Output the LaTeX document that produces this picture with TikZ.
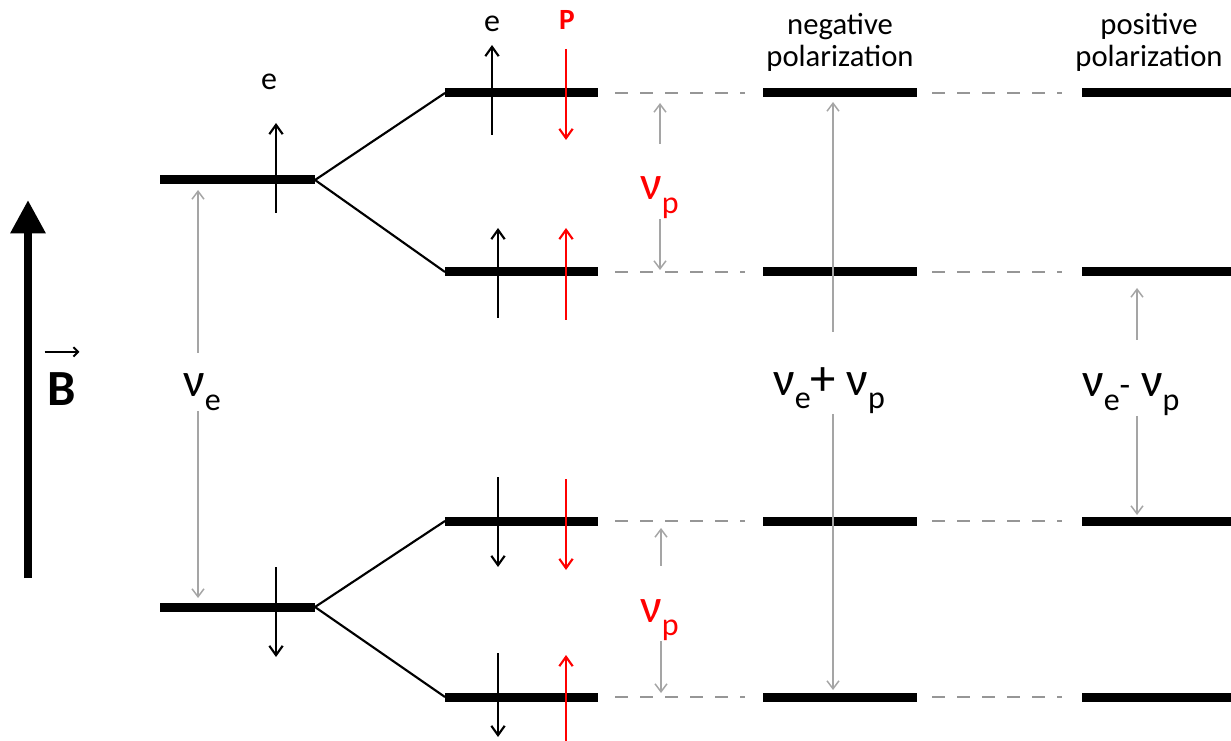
\documentclass[tikz,border=0pt]{standalone}
\usepackage{fontspec}
\setmainfont{Carlito}
\usetikzlibrary{arrows.meta,calc}
\definecolor{spinred}{RGB}{255,0,0}
\definecolor{gapgray}{RGB}{165,165,165}
\definecolor{dashgray}{RGB}{150,150,150}
\tikzset{
  level/.style={line width=6.75pt},
  split/.style={line width=1.6pt},
  spin/.style={line width=1.6pt,-{Straight Barb[length=7pt,width=10pt]}},
  gaparrow/.style={gapgray,line width=1.1pt,-{Straight Barb[length=6pt,width=9pt]}},
  linkdash/.style={dashgray,line width=1.9pt,dash pattern=on 9.75pt off 9pt},
  freqlab/.style={inner sep=0pt,anchor=base west},
  spinlab/.style={inner sep=0pt,anchor=base,font=\fontsize{24}{24}\selectfont},
  pollab/.style={inner sep=0pt,anchor=south,align=center,font=\fontsize{23}{24}\selectfont}
}
\newcommand{\freqsym}[1]{{\fontsize{36}{40}\selectfont ν}\raisebox{-10pt}{\fontsize{24}{26}\selectfont #1}}

\begin{document}
\begin{tikzpicture}[x=0.75pt,y=-0.75pt]
  \useasboundingbox (0,0) rectangle (1231,741);

  % champ B
  \draw[line width=6pt,-{Triangle[length=25pt,width=25pt]}] (28,578) -- (28,200);
  \node[inner sep=0pt,anchor=base,font=\fontsize{38}{38}\selectfont\bfseries] (bfield) at (62,405) {B};
  \draw[line width=1.5pt,-{Straight Barb[length=3.5pt,width=7pt]}]
    ($(bfield.north west)+(-3,-20)$) -- ($(bfield.north east)+(3,-20)$);

  % niveaux de l'électron
  \coordinate (eupL) at (160,180);
  \coordinate (eupR) at (315,180);
  \coordinate (ednL) at (160,607);
  \coordinate (ednR) at (315,607);
  \draw[level] (eupL) -- (eupR);
  \draw[level] (ednL) -- (ednR);

  % niveaux électron + proton, trois colonnes
  \foreach \n/\y in {1/93,2/272,3/521,4/697}{
    \coordinate (aL\n) at (445,\y);
    \coordinate (aR\n) at (598,\y);
    \coordinate (bL\n) at (763,\y);
    \coordinate (bR\n) at (917,\y);
    \coordinate (cL\n) at (1082,\y);
    \coordinate (cR\n) at (1231,\y);
    \draw[level] (aL\n) -- (aR\n);
    \draw[level] (bL\n) -- (bR\n);
    \draw[level] (cL\n) -- (cR\n);
    \draw[linkdash] ($(aR\n)+(17,0)$) -- ($(bL\n)+(-18,0)$);
    \draw[linkdash] ($(bR\n)+(15,0)$) -- ($(cL\n)+(-20,0)$);
  }

  % séparation hyperfine
  \draw[split] (eupR) -- (aL1);
  \draw[split] (eupR) -- (aL2);
  \draw[split] (ednR) -- (aL3);
  \draw[split] (ednR) -- (aL4);

  % spins
  \draw[spin] (276,213) -- (276,123);
  \draw[spin] (276,567) -- (276,657);
  \draw[spin] (492,135) -- (492,45);
  \draw[spin,spinred] (566,49) -- (566,140);
  \draw[spin] (498,318) -- (498,228);
  \draw[spin,spinred] (566,320) -- (566,228);
  \draw[spin] (498,477) -- (498,567);
  \draw[spin,spinred] (566,479) -- (566,570);
  \draw[spin] (498,653) -- (498,737);
  \draw[spin,spinred] (566,745) -- (566,655);

  \node[spinlab] (elabL) at (269,90) {e};
  \node[spinlab] (elabR) at (492,32) {e};
  \node[spinlab,text=spinred,font=\fontsize{22}{22}\selectfont\bfseries] (plab) at (567,30) {P};

  % titres
  \node[pollab] (negpol) at (840,72) {negative\\polarization};
  \node[pollab] (pospol) at (1149,72) {positive\\polarization};

  % écarts en fréquence
  \node[freqlab] (nue) at (183,397) {\freqsym{e}};
  \coordinate (nueT) at (198,190);
  \coordinate (nueB) at (198,598);
  \draw[gaparrow] ($(nueT |- nue.north)+(0,-21)$) -- (nueT);
  \draw[gaparrow] (nueB |- nue.south) -- (nueB);

  \node[freqlab,text=spinred] (nupA) at (640,200) {\freqsym{p}};
  \coordinate (nupAT) at (660,103);
  \coordinate (nupAB) at (660,270);
  \draw[gaparrow] ($(nupAT |- nupA.north)+(0,-33)$) -- (nupAT);
  \draw[gaparrow] (nupAB |- nupA.south) -- (nupAB);

  \node[freqlab,text=spinred] (nupB) at (640,622) {\freqsym{p}};
  \coordinate (nupBT) at (661,528);
  \coordinate (nupBB) at (661,693);
  \draw[gaparrow] ($(nupBT |- nupB.north)+(0,-33)$) -- (nupBT);
  \draw[gaparrow] (nupBB |- nupB.south) -- (nupBB);

  \node[freqlab] (nusum) at (773,395) {\freqsym{e}{\fontsize{38}{40}\selectfont +}\hspace{8pt}\freqsym{p}};
  \coordinate (nusumT) at (833,102);
  \coordinate (nusumB) at (833,690);
  \draw[gaparrow] ($(nusumT |- nusum.north)+(0,-35)$) -- (nusumT);
  \draw[gaparrow] (nusumB |- nusum.south) -- (nusumB);

  \node[freqlab] (nudif) at (1082,397) {\freqsym{e}{\fontsize{26}{26}\selectfont -}\hspace{8pt}\freqsym{p}};
  \coordinate (nudifT) at (1137,288);
  \coordinate (nudifB) at (1137,515);
  \draw[gaparrow] ($(nudifT |- nudif.north)+(0,-34)$) -- (nudifT);
  \draw[gaparrow] (nudifB |- nudif.south) -- (nudifB);
\end{tikzpicture}
\end{document}
